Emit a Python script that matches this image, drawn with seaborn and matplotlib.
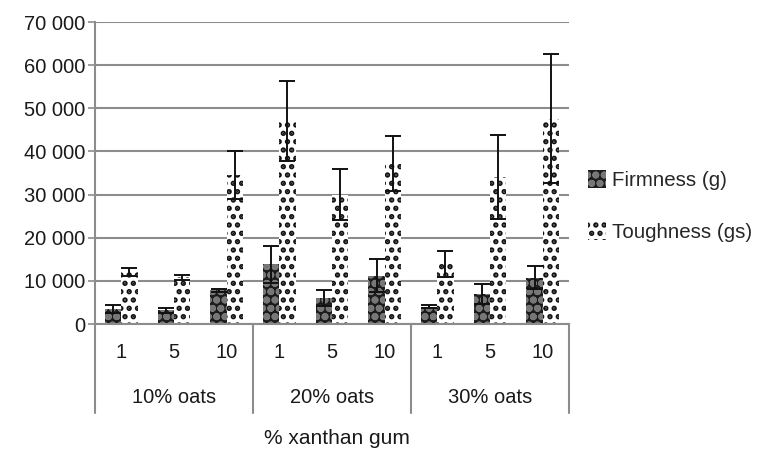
import pandas as pd
import matplotlib.pyplot as plt
import seaborn as sns
from matplotlib.lines import Line2D
from matplotlib.patches import Patch

# data
oats = ["10% oats", "20% oats", "30% oats"]
xanthan = ["1", "5", "10"]
firmness = [3500, 3200, 7800, 13800, 6000, 11200, 4000, 7000, 10700]
firmness_err = [1000, 600, 400, 4200, 1800, 3800, 300, 2300, 2700]
toughness = [12000, 10800, 34500, 47000, 30000, 37200, 14000, 34000, 47600]
toughness_err = [900, 600, 5500, 9300, 6000, 6400, 3000, 9700, 15000]
yticks = [0, 10000, 20000, 30000, 40000, 50000, 60000, 70000]

keys = [f"{o} {x}" for o in oats for x in xanthan]
df = pd.DataFrame({
    "key": keys * 2,
    "value": firmness + toughness,
    "measure": ["Firmness (g)"] * 9 + ["Toughness (gs)"] * 9,
})

sns.set_theme(style="white")
plt.rcParams["font.family"] = ["Liberation Sans", "DejaVu Sans"]
plt.rcParams["hatch.linewidth"] = 2.6

fig = plt.figure(figsize=(7.61, 4.5), dpi=100)
ax = fig.add_axes([95 / 761, 1 - 324 / 450, 474 / 761, 302 / 450])

sns.barplot(data=df, x="key", y="value", hue="measure", order=keys,
            width=0.62, errorbar=None, legend=False, ax=ax)

styles = [
    dict(face="#1c1c1c", hatch="oo", hc="#777777"),
    dict(face="white", hatch="..", hc="#111111"),
]
errs = [firmness_err, toughness_err]
for cont, st, err in zip(ax.containers, styles, errs):
    xs, ys = [], []
    for bar in cont:
        bar.set_facecolor(st["face"])
        bar.set_edgecolor(st["hc"])
        bar.set_hatch(st["hatch"])
        bar.set_linewidth(0)
        xs.append(bar.get_x() + bar.get_width() / 2)
        ys.append(bar.get_height())
    ax.errorbar(xs, ys, yerr=err, fmt="none", ecolor="#111111",
                elinewidth=1.4, capsize=6, capthick=1.4, zorder=5)

ax.set_ylim(0, 70000)
ax.set_xlim(-0.5, 8.5)
ax.set_yticks(yticks)
ax.set_yticklabels([f"{v:,}".replace(",", " ") for v in yticks], fontsize=14.5, color="#1a1a1a")
ax.yaxis.grid(True, color="#8c8c8c", linewidth=1.5)
ax.set_axisbelow(True)
ax.tick_params(axis="y", left=True, length=5, width=1.2, color="#8c8c8c", pad=2)
ax.set_xticks([])
ax.set_xlabel("")
ax.set_ylabel("")
for s in ["top", "right"]:
    ax.spines[s].set_visible(False)
for s in ["left", "bottom"]:
    ax.spines[s].set_color("#8c8c8c")
    ax.spines[s].set_linewidth(1.5)

# category boxes under the axis
trans = ax.get_xaxis_transform()
for xb in [-0.5, 2.5, 5.5, 8.5]:
    ax.add_line(Line2D([xb, xb], [0, -0.295], transform=trans, color="#8c8c8c",
                       linewidth=1.5, clip_on=False))
for i, k in enumerate(keys):
    ax.text(i, -0.096, xanthan[i % 3], transform=trans, ha="center", va="center",
            fontsize=14.5, color="#1a1a1a")
for g, o in enumerate(oats):
    ax.text(3 * g + 1, -0.242, o, transform=trans, ha="center", va="center",
            fontsize=14.5, color="#1a1a1a")

fig.text(337 / 761, 1 - 438 / 450, "% xanthan gum", ha="center", va="center",
         fontsize=15, color="#1a1a1a")

handles = [Patch(facecolor=st["face"], edgecolor=st["hc"], hatch=st["hatch"], linewidth=0)
           for st in styles]
fig.legend(handles, ["Firmness (g)", "Toughness (gs)"], loc="center left",
           bbox_to_anchor=(584 / 761, 1 - 206 / 450), frameon=False, fontsize=14.8,
           handlelength=0.85, handleheight=1.0, handletextpad=0.3, labelspacing=1.55,
           borderaxespad=0, borderpad=0.2)

fig.savefig("out.png", dpi=100)
